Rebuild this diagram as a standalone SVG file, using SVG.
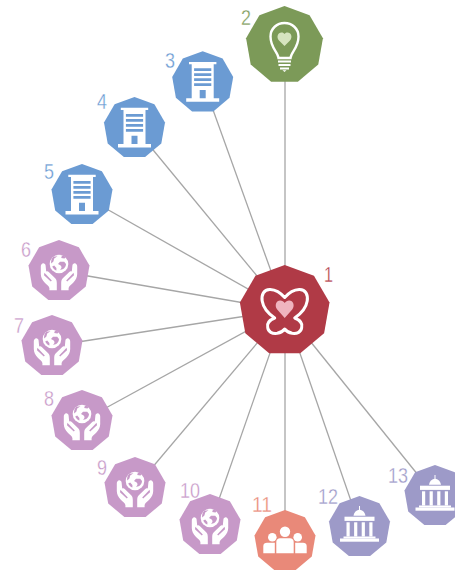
<svg xmlns="http://www.w3.org/2000/svg" xmlns:xlink="http://www.w3.org/1999/xlink" width="455" height="570" viewBox="0 0 455 570">
<style>
.e{stroke:#a6a6a6;stroke-width:1.3;fill:none}
.l{font-family:"Liberation Sans",sans-serif;font-size:22.5px;stroke:#fff;stroke-width:.35}
.w{fill:#fff}
.red{fill:#b03a46}.grn{fill:#7c9a58}.blu{fill:#6b9bd3}.pnk{fill:#c799c8}.sal{fill:#e98979}.lav{fill:#9d9ac8}
</style>
<defs>
<polygon id="n" points="0,-31 19.9,-23.7 30.5,-5.4 26.8,15.5 10.6,29.1 -10.6,29.1 -26.8,15.5 -30.5,-5.4 -19.9,-23.7"/>
<path id="bld" class="w" fill-rule="evenodd" d="M-13.7,-20.3H13.7V-18H11V16H16.5V19.4H-16.5V16H-11V-18H-13.7ZM-8.6,-14V-11.3H8.6V-14ZM-8.6,-9V-6.3H8.6V-9ZM-8.6,-4V-1.3H8.6V-4ZM-8.6,1V3.7H8.6V1ZM-3,7.7V16H3V7.7Z"/>
<g id="hand">
<path class="w" d="M-16.5,-7.6C-14.8,-8 -13.6,-7 -13.4,-5.4L-12.8,.6C-12,0 -11,.2 -10,1.2L-3.8,7.2C-2.6,8.4 -2.2,10 -2.2,12V19.2H-9.6V17C-10,15 -12.5,13.6 -14.4,11.6C-16.8,9 -18.2,6.2 -18.2,3V-4.5C-18.2,-6 -17.6,-7.2 -16.5,-7.6Z"/>
<path class="pnk" d="M-14.6,1.8L-7.2,9.4L-8.2,10.4L-15,4.2Z"/>
</g>
<g id="hands">
<circle cx="0" cy="-7" r="9.3" class="w"/>
<path class="pnk" d="M-5.5,-14.3C-7.5,-12.8 -8.2,-9.8 -7.8,-7.6L-5.6,-9.5L-4.8,-12.4L-1.5,-14.8ZM3,-15.4L2.2,-13L5.4,-12.6L6.8,-13.6C5.6,-14.8 4.4,-15.2 3,-15.4ZM-6.8,-4.6C-6,-2.8 -4.4,-1.2 -2.6,-.4L-2.6,-3L-4.8,-5.4ZM-1,-7L1,-9.2L5.2,-9.2L7,-7C7,-3.8 4.2,-1 1,-1.4C3.5,-3 3,-5.4 -1,-7Z"/>
<use xlink:href="#hand" href="#hand"/>
<use xlink:href="#hand" href="#hand" transform="scale(-1,1)"/>
</g>
<g id="bank">
<path class="w" d="M-.5,-21H.5V-17.2C3.5,-16.6 5.7,-14.2 6,-11.2H-6C-5.7,-14.2 -3.5,-16.6 -.5,-17.2Z"/>
<rect class="w" x="-15" y="-10.3" width="30" height="4.2"/>
<rect class="w" x="-13" y="-4.7" width="3.2" height="14.2"/>
<rect class="w" x="-5.4" y="-4.7" width="3.2" height="14.2"/>
<rect class="w" x="2.2" y="-4.7" width="3.2" height="14.2"/>
<rect class="w" x="9.8" y="-4.7" width="3.2" height="14.2"/>
<rect class="w" x="-16" y="9.5" width="32" height="2"/>
<rect class="w" x="-19.5" y="11.5" width="39" height="3.2"/>
</g>
</defs>
<g id="connectors" class="e">
<path d="M285,310L285,45"/><path d="M285,310L203,82"/><path d="M285,310L135,128"/><path d="M285,310L82,195"/><path d="M285,310L59,271"/><path d="M285,310L52,346"/><path d="M285,310L82,421"/><path d="M285,310L135,488"/><path d="M285,310L210,525"/><path d="M285,310L285,541"/><path d="M285,310L360,527"/><path d="M285,310L435,496"/>
</g>
<g id="node-1" transform="translate(284.7,310.5)">
<use href="#n" class="red" transform="scale(1.47)"/>
<path fill="none" stroke="#fff" stroke-width="3" stroke-linejoin="round" d="M0,-13C3.5,-17 9,-20.7 14.5,-21C21,-21.3 23.5,-15.5 22.5,-9.5C21.5,-3 16.5,3 10,7.5C15,9.5 18,13 17,17C16.4,21.5 12.5,23.5 7.5,22.8C4,22.2 1.5,20.5 0,18.5C-1.5,20.5 -4,22.2 -7.5,22.8C-12.5,23.5 -16.4,21.5 -17,17C-18,13 -15,9.5 -10,7.5C-16.5,3 -21.5,-3 -22.5,-9.5C-23.5,-15.5 -21,-21.3 -14.5,-21C-9,-20.7 -3.5,-17 0,-13Z"/>
<path fill="#efb5bf" d="M0,7.5L-7.5,-1C-10.5,-5 -8.5,-10 -4.5,-10C-2.5,-10 -1,-9 0,-7.5C1,-9 2.5,-10 4.5,-10C8.5,-10 10.5,-5 7.5,-1Z"/>
</g>
<g id="node-2" transform="translate(284.5,45)">
<use href="#n" class="grn" transform="scale(1.26)"/>
<path fill="none" stroke="#fff" stroke-width="2.4" d="M-6,13C-6.5,7 -14,3 -14,-8.5C-14,-16.5 -7.5,-22 0,-22C7.5,-22 14,-16.5 14,-8.5C14,3 6.5,7 6,13Z"/>
<rect class="w" x="-6.5" y="15.5" width="13" height="2"/><rect class="w" x="-6" y="19" width="12" height="2"/><rect class="w" x="-4.5" y="22.5" width="9" height="2"/><path class="w" d="M-2,25.2H2L0,27Z"/>
<path fill="#d6e4bf" d="M0,1L-5.5,-4.5C-8.5,-8 -6.5,-12.5 -3,-12.5C-1.5,-12.5 -.5,-11.8 0,-11C.5,-11.8 1.5,-12.5 3,-12.5C6.5,-12.5 8.5,-8 5.5,-4.5Z"/>
</g>
<g id="node-3" transform="translate(202.7,82.3)"><use href="#n" class="blu"/><use href="#bld"/></g>
<g id="node-4" transform="translate(134.5,128)"><use href="#n" class="blu"/><use href="#bld"/></g>
<g id="node-5" transform="translate(82,195)"><use href="#n" class="blu"/><use href="#bld"/></g>
<g id="node-6" transform="translate(59,271)"><use href="#n" class="pnk"/><use href="#hands"/></g>
<g id="node-7" transform="translate(52,346)"><use href="#n" class="pnk"/><use href="#hands"/></g>
<g id="node-8" transform="translate(82,421)"><use href="#n" class="pnk"/><use href="#hands"/></g>
<g id="node-9" transform="translate(135,488)"><use href="#n" class="pnk"/><use href="#hands"/></g>
<g id="node-10" transform="translate(210,525)"><use href="#n" class="pnk"/><use href="#hands"/></g>
<g id="node-11" transform="translate(285,541)"><use href="#n" class="sal"/>
<circle class="w" cx="0" cy="-9.3" r="5.2"/><circle class="w" cx="-12.7" cy="-3.7" r="4.3"/><circle class="w" cx="12.7" cy="-3.7" r="4.3"/>
<path class="w" d="M-8.7,12.3V1C-8.7,-1.5 -7,-2.7 -5,-2.7H5C7,-2.7 8.7,-1.5 8.7,1V12.3Z"/>
<path class="w" d="M-21.7,12.3V5C-21.7,3 -20,1.8 -18,1.8H-10.2V12.3Z"/>
<path class="w" d="M21.7,12.3V5C21.7,3 20,1.8 18,1.8H10.2V12.3Z"/>
</g>
<g id="node-12" transform="translate(359.5,527)"><use href="#n" class="lav"/><use href="#bank"/></g>
<g id="node-13" transform="translate(435,496)"><use href="#n" class="lav"/><use href="#bank"/></g>
<g id="labels" class="l">
<text x="324" y="282" textLength="9" lengthAdjust="spacingAndGlyphs" fill="#b03a46">1</text>
<text x="241" y="25" textLength="10" lengthAdjust="spacingAndGlyphs" fill="#7c9a58">2</text>
<text x="165" y="68" textLength="10" lengthAdjust="spacingAndGlyphs" fill="#6b9bd3">3</text>
<text x="97" y="109" textLength="10" lengthAdjust="spacingAndGlyphs" fill="#6b9bd3">4</text>
<text x="44" y="179" textLength="10" lengthAdjust="spacingAndGlyphs" fill="#6b9bd3">5</text>
<text x="21" y="257" textLength="10" lengthAdjust="spacingAndGlyphs" fill="#c799c8">6</text>
<text x="14" y="333" textLength="10" lengthAdjust="spacingAndGlyphs" fill="#c799c8">7</text>
<text x="44" y="406" textLength="10" lengthAdjust="spacingAndGlyphs" fill="#c799c8">8</text>
<text x="97" y="475" textLength="10" lengthAdjust="spacingAndGlyphs" fill="#c799c8">9</text>
<text x="180" y="498" textLength="20" lengthAdjust="spacingAndGlyphs" fill="#c799c8">10</text>
<text x="252" y="512" textLength="20" lengthAdjust="spacingAndGlyphs" fill="#e98979">11</text>
<text x="318" y="504" textLength="20" lengthAdjust="spacingAndGlyphs" fill="#9d9ac8">12</text>
<text x="388" y="483" textLength="20" lengthAdjust="spacingAndGlyphs" fill="#9d9ac8">13</text>
</g>
</svg>
